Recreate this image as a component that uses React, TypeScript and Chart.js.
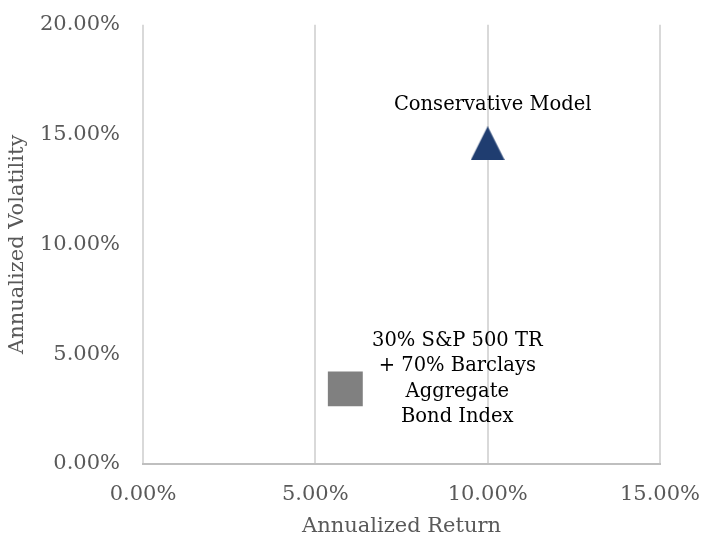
import React, { useEffect, useRef } from 'react';
import { Chart, registerables } from 'chart.js';
Chart.register(...registerables);

const seriesNames = ['Conservative Model', '30% S&P 500 TR + 70% Barclays Aggregate Bond Index'];
const annualizedReturn = [10.0, 5.87];
const annualizedVolatility = [14.6, 3.42];
const pointLabels = [['Conservative Model'], ['30% S&P 500 TR', '+ 70% Barclays', 'Aggregate', 'Bond Index']];
const xTickValues = [0, 5, 10, 15];
const yTickValues = [0, 5, 10, 15, 20];
const xTitle = 'Annualized Return';
const yTitle = 'Annualized Volatility';

const FONT = '"DejaVu Serif", serif';

function makeTriangle(w: number, h: number, color: string) {
  const c = document.createElement('canvas');
  c.width = w;
  c.height = h;
  const ctx = c.getContext('2d')!;
  ctx.fillStyle = color;
  ctx.beginPath();
  ctx.moveTo(w / 2, 0);
  ctx.lineTo(w, h);
  ctx.lineTo(0, h);
  ctx.closePath();
  ctx.fill();
  return c;
}

const labelPlugin = {
  id: 'pointLabels',
  afterDatasetsDraw(chart: any) {
    const ctx = chart.ctx;
    ctx.save();
    ctx.fillStyle = '#000000';
    ctx.font = `19.5px ${FONT}`;
    ctx.textAlign = 'center';
    ctx.textBaseline = 'middle';
    const offsets = [
      { dx: 5, dy: -38, lh: 25 },
      { dx: 112, dy: -48, lh: 25.3 },
    ];
    chart.data.datasets.forEach((ds: any, i: number) => {
      const meta = chart.getDatasetMeta(i);
      const el = meta.data[0];
      if (!el) return;
      const o = offsets[i];
      pointLabels[i].forEach((line, j) => {
        ctx.fillText(line, el.x + o.dx, el.y + o.dy + j * o.lh);
      });
    });
    ctx.restore();
  },
};

export default function App() {
  const ref = useRef<HTMLCanvasElement>(null);
  useEffect(() => {
    document.body.style.margin = '0';
    const tri = makeTriangle(34, 34, '#1f3d70');
    const chart = new Chart(ref.current!, {
      type: 'scatter',
      data: {
        datasets: [
          {
            label: seriesNames[0],
            data: [{ x: annualizedReturn[0], y: annualizedVolatility[0] }],
            pointStyle: tri as any,
            pointRadius: 17,
            backgroundColor: '#1f3d70',
            borderWidth: 0,
          },
          {
            label: seriesNames[1],
            data: [{ x: annualizedReturn[1], y: annualizedVolatility[1] }],
            pointStyle: 'rect',
            pointRadius: 24.7,
            backgroundColor: '#808080',
            borderWidth: 0,
          },
        ],
      },
      options: {
        responsive: false,
        animation: false,
        layout: { padding: { top: 22, right: 41, left: 0, bottom: 0 } },
        plugins: { legend: { display: false }, tooltip: { enabled: false } },
        scales: {
          x: {
            type: 'linear',
            min: xTickValues[0],
            max: xTickValues[xTickValues.length - 1],
            afterBuildTicks: (s: any) => { s.ticks = xTickValues.map((v) => ({ value: v })); },
            afterFit: (s: any) => {
              s.height = 75;
              s.paddingLeft = 0; s.paddingRight = 0; s.paddingTop = 0; s.paddingBottom = 0;
            },
            ticks: {
              callback: (v: any) => Number(v).toFixed(2) + '%',
              color: '#595959',
              font: { family: FONT, size: 21 },
              padding: 18,
              maxRotation: 0,
            },
            grid: { color: '#d9d9d9', lineWidth: 2, drawTicks: false },
            border: { display: true, color: '#bfbfbf', width: 2 },
            title: {
              display: true,
              text: xTitle,
              color: '#595959',
              font: { family: FONT, size: 21 },
              padding: { top: 0, bottom: 0 },
            },
          },
          y: {
            type: 'linear',
            min: yTickValues[0],
            max: yTickValues[yTickValues.length - 1],
            afterBuildTicks: (s: any) => { s.ticks = yTickValues.map((v) => ({ value: v })); },
            afterFit: (s: any) => {
              s.width = 143;
              s.paddingLeft = 0; s.paddingRight = 0; s.paddingTop = 0; s.paddingBottom = 0;
            },
            ticks: {
              callback: (v: any) => Number(v).toFixed(2) + '%',
              color: '#595959',
              font: { family: FONT, size: 21 },
              padding: 23,
            },
            grid: { display: false, drawTicks: false },
            border: { display: false },
            title: {
              display: true,
              text: yTitle,
              color: '#595959',
              font: { family: FONT, size: 21 },
              padding: { top: 5, bottom: 0 },
            },
          },
        },
      },
      plugins: [labelPlugin],
    });
    return () => chart.destroy();
  }, []);
  return <canvas ref={ref} width={701} height={539} style={{ display: 'block' }} />;
}
